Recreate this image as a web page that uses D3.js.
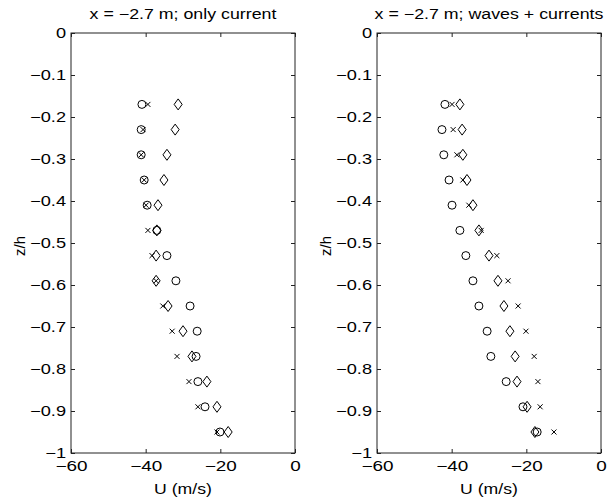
<!DOCTYPE html>
<html><head><meta charset="utf-8">
<script src="https://cdn.jsdelivr.net/npm/d3@7"></script>
<style>body{margin:0;background:#fff}svg{display:block}text{font-family:"Liberation Sans",Arial,sans-serif;fill:#000}</style>
</head><body><svg id="c" width="608" height="501"></svg>
<script>
const zLevels = [-0.17,-0.23,-0.29,-0.35,-0.41,-0.47,-0.53,-0.59,-0.65,-0.71,-0.77,-0.83,-0.89,-0.95];
const titles = ["x = \u22122.7 m; only current", "x = \u22122.7 m; waves + currents"];
const xTicks = [-60,-40,-20,0];
const yTicks = [0,-0.1,-0.2,-0.3,-0.4,-0.5,-0.6,-0.7,-0.8,-0.9,-1];
// panel 1: only current
const cur_circle = [-41.0,-41.2,-41.2,-40.4,-39.6,-37.0,-34.3,-31.9,-28.1,-26.2,-26.5,-26.0,-24.1,-20.1];
const cur_cross  = [-39.4,-40.7,-41.2,-40.4,-39.9,-39.4,-38.3,-37.2,-35.4,-32.9,-31.6,-28.4,-26.0,-20.9];
const cur_diam   = [-31.3,-32.1,-34.3,-35.1,-36.7,-37.0,-37.2,-37.2,-34.0,-30.0,-27.6,-23.6,-20.9,-17.9];
// panel 2: waves + currents
const wc_circle = [-41.8,-42.6,-42.1,-40.7,-39.9,-37.8,-36.2,-34.3,-32.7,-30.5,-29.5,-25.4,-20.9,-17.1];
const wc_cross  = [-39.9,-39.6,-38.6,-37.0,-35.4,-32.1,-27.9,-24.9,-22.2,-20.1,-17.9,-16.9,-16.3,-12.6];
const wc_diam   = [-37.8,-37.2,-37.0,-35.9,-34.3,-32.7,-30.0,-27.6,-26.0,-24.4,-23.0,-22.5,-19.8,-17.7];

const panels = [
  {left:71, title:titles[0], circle:cur_circle, cross:cur_cross, diam:cur_diam},
  {left:377, title:titles[1], circle:wc_circle, cross:wc_cross, diam:wc_diam}
];
const svg = d3.select("#c");
const pTop = 33, pBottom = 453, pWidth = 224;
const fmt = v => v === 0 ? "0" : (v === -1 ? "\u22121" : d3.format(".1f")(v).replace("-", "\u2212"));
const fmtX = v => v === 0 ? "0" : String(v).replace("-", "\u2212");
function stretch(sel, f) {
  sel.each(function() {
    const w = this.getComputedTextLength();
    if (w > 0) d3.select(this).attr("textLength", w * f).attr("lengthAdjust", "spacingAndGlyphs");
  });
}

panels.forEach(p => {
  const x = d3.scaleLinear().domain([-60,0]).range([p.left, p.left+pWidth]);
  const y = d3.scaleLinear().domain([-1,0]).range([pBottom, pTop]);
  const g = svg.append("g");
  g.append("rect").attr("x", p.left).attr("y", pTop).attr("width", pWidth).attr("height", pBottom-pTop)
    .attr("fill","none").attr("stroke","#222").attr("stroke-width",1);
  const ax = g.append("g").attr("transform",`translate(0,${pBottom})`)
    .call(d3.axisBottom(x).tickValues(xTicks).tickSize(-4).tickPadding(8).tickFormat(fmtX));
  const axT = g.append("g").attr("transform",`translate(0,${pTop})`)
    .call(d3.axisTop(x).tickValues(xTicks).tickSize(-4).tickFormat(""));
  const ay = g.append("g").attr("transform",`translate(${p.left},0)`)
    .call(d3.axisLeft(y).tickValues(yTicks).tickSize(-4).tickPadding(5).tickFormat(fmt));
  const ayR = g.append("g").attr("transform",`translate(${p.left+pWidth},0)`)
    .call(d3.axisRight(y).tickValues(yTicks).tickSize(-4).tickFormat(""));
  [ax,axT,ay,ayR].forEach(a => {
    a.select(".domain").remove();
    a.selectAll(".tick line").attr("stroke","#222");
    a.selectAll("text").style("font-size","14px").style("font-family",'"Liberation Sans",Arial,sans-serif').attr("fill","#000");
  });
  stretch(ay.selectAll("text"), 1.3);
  stretch(ax.selectAll("text"), 1.35);
  const t = g.append("text").attr("x", p.left+pWidth/2).attr("y", 19).attr("text-anchor","middle")
    .style("font-size","14px").text(p.title);
  stretch(t, 1.27);
  const xl = g.append("text").attr("x", p.left+pWidth/2).attr("y", 494).attr("text-anchor","middle")
    .style("font-size","14px").text("U (m/s)");
  stretch(xl, 1.26);
  g.append("text").attr("transform",`translate(${p.left-46},${(pTop+pBottom)/2 + 3}) rotate(-90)`)
    .attr("text-anchor","middle").style("font-size","15px").text("z/h");
  const m = g.append("g").attr("fill","none").attr("stroke","#000").attr("stroke-width",1);
  m.selectAll("circle").data(p.circle).join("circle")
    .attr("cx",(d)=>x(d)).attr("cy",(d,i)=>y(zLevels[i])).attr("r",4);
  m.selectAll("path.d").data(p.diam).join("path").attr("class","d")
    .attr("d",(d,i)=>{const cx=x(d), cy=y(zLevels[i]); return `M${cx},${cy-5.5}L${cx+4},${cy}L${cx},${cy+5.5}L${cx-4},${cy}Z`;});
  m.selectAll("path.x").data(p.cross).join("path").attr("class","x")
    .attr("d",(d,i)=>{const cx=x(d), cy=y(zLevels[i]), s=2.5; return `M${cx-s},${cy-s}L${cx+s},${cy+s}M${cx-s},${cy+s}L${cx+s},${cy-s}`;});
});
</script></body></html>
